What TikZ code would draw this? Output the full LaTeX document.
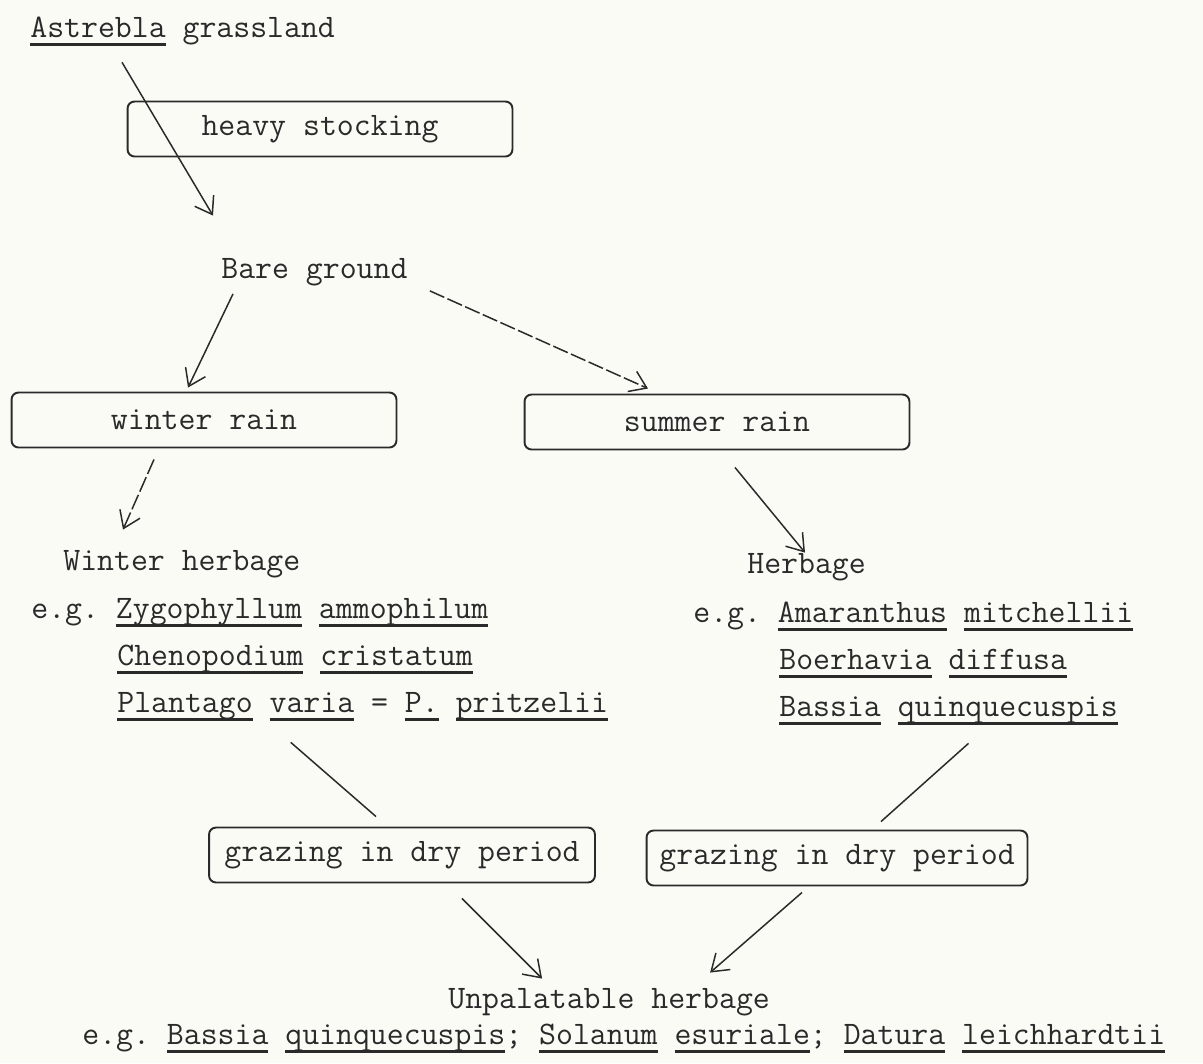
\documentclass[tikz,border=0pt]{standalone}
\usepackage{fontspec}
\usetikzlibrary{arrows.meta,calc}
\definecolor{paper}{HTML}{FBFBF6}
\definecolor{ink}{HTML}{2A2A2A}
\newsavebox{\taxonbox}
\newcommand{\taxon}[1]{\sbox{\taxonbox}{#1}\rlap{\vrule height -3.6pt depth 5.1pt width \wd\taxonbox}\usebox{\taxonbox}}
\frenchspacing

\begin{document}
\begin{tikzpicture}[x=0.02cm,y=-0.02cm]
  \tikzstyle{txt}=[anchor=base west,inner sep=0pt,text=ink,font=\fontsize{18.7}{22}\selectfont\ttfamily]
  \tikzstyle{frame}=[draw=ink,line width=1.1pt,rounded corners=4pt,minimum width=7.7cm,minimum height=1.1cm,text=ink,font=\fontsize{18.7}{22}\selectfont\ttfamily]
  \tikzstyle{link}=[draw=ink,line width=0.85pt]
  \tikzstyle{arr}=[link,-{Straight Barb[length=0.32cm,width=0.44cm]}]
  \tikzstyle{faint}=[dash pattern=on 9pt off 2pt]
  \fill[paper] (0,0) rectangle (1203,1063);
  \useasboundingbox (0,0) rectangle (1203,1063);

  \node[txt] (ast) at (30,37) {\taxon{Astrebla} grassland};
  \node[frame] (heavy) at (320,129) {heavy stocking};
  \node[txt] (bare) at (221,278) {Bare ground};

  \node[frame] (winter) at (204,420) {winter rain};
  \node[frame] (summer) at (717,422) {summer rain};

  % left column
  \node[txt] (wherb) at (63,570)  {Winter herbage};
  \node[txt] (zygo)  at (31,618)  {e.g. \taxon{Zygophyllum} \taxon{ammophilum}};
  \node[txt] (cheno) at (117,665) {\taxon{Chenopodium} \taxon{cristatum}};
  \node[txt] (plant) at (117,712) {\taxon{Plantago} \taxon{varia} = \taxon{P.} \taxon{pritzelii}};
  % right column
  \node[txt] (herb) at (747,573)  {Herbage};
  \node[txt] (amar) at (693,622)  {e.g. \taxon{Amaranthus} \taxon{mitchellii}};
  \node[txt] (boer) at (779,669)  {\taxon{Boerhavia} \taxon{diffusa}};
  \node[txt] (bass) at (779,716)  {\taxon{Bassia} \taxon{quinquecuspis}};

  \node[frame,minimum width=7.72cm] (grazeL) at (402,855) {grazing in dry period};
  \node[frame,minimum width=7.62cm] (grazeR) at (837,858) {grazing in dry period};

  \node[txt] (unpal) at (448,1008) {Unpalatable herbage};
  \node[txt] (ex) at (82,1044) {e.g. \taxon{Bassia} \taxon{quinquecuspis}; \taxon{Solanum} \taxon{esuriale}; \taxon{Datura} \taxon{leichhardtii}};

  % arrows
  \draw[arr] ($(ast.south west)+(92,16)$) -- ($(bare.north west)+(-8,-42)$);
  \draw[arr] ($(bare.south west)+(12,8)$) -- ($(winter.north)+(-16,-4)$);
  \draw[arr,faint] ($(bare.south east)+(22,5)$) -- ($(summer.north)+(-69,-5)$);
  \draw[arr,faint] ($(winter.south)+(-50,11)$) -- ($(wherb.north west)+(60,-20)$);
  \draw[arr] ($(summer.south)+(18,17)$) -- ($(herb.north west)+(58,0)$);
  \draw[link] ($(plant.south)+(-72,21)$) -- ($(grazeL.north)+(-26,-10)$);
  \draw[link] ($(bass.south)+(20,18)$) -- ($(grazeR.north)+(44,-8)$);
  \draw[arr] ($(grazeL.south)+(60,15)$) -- ($(unpal.north)+(-67,-9)$);
  \draw[arr] ($(grazeR.south)+(-35,6)$) -- ($(unpal.north)+(101,-15)$);
\end{tikzpicture}
\end{document}
